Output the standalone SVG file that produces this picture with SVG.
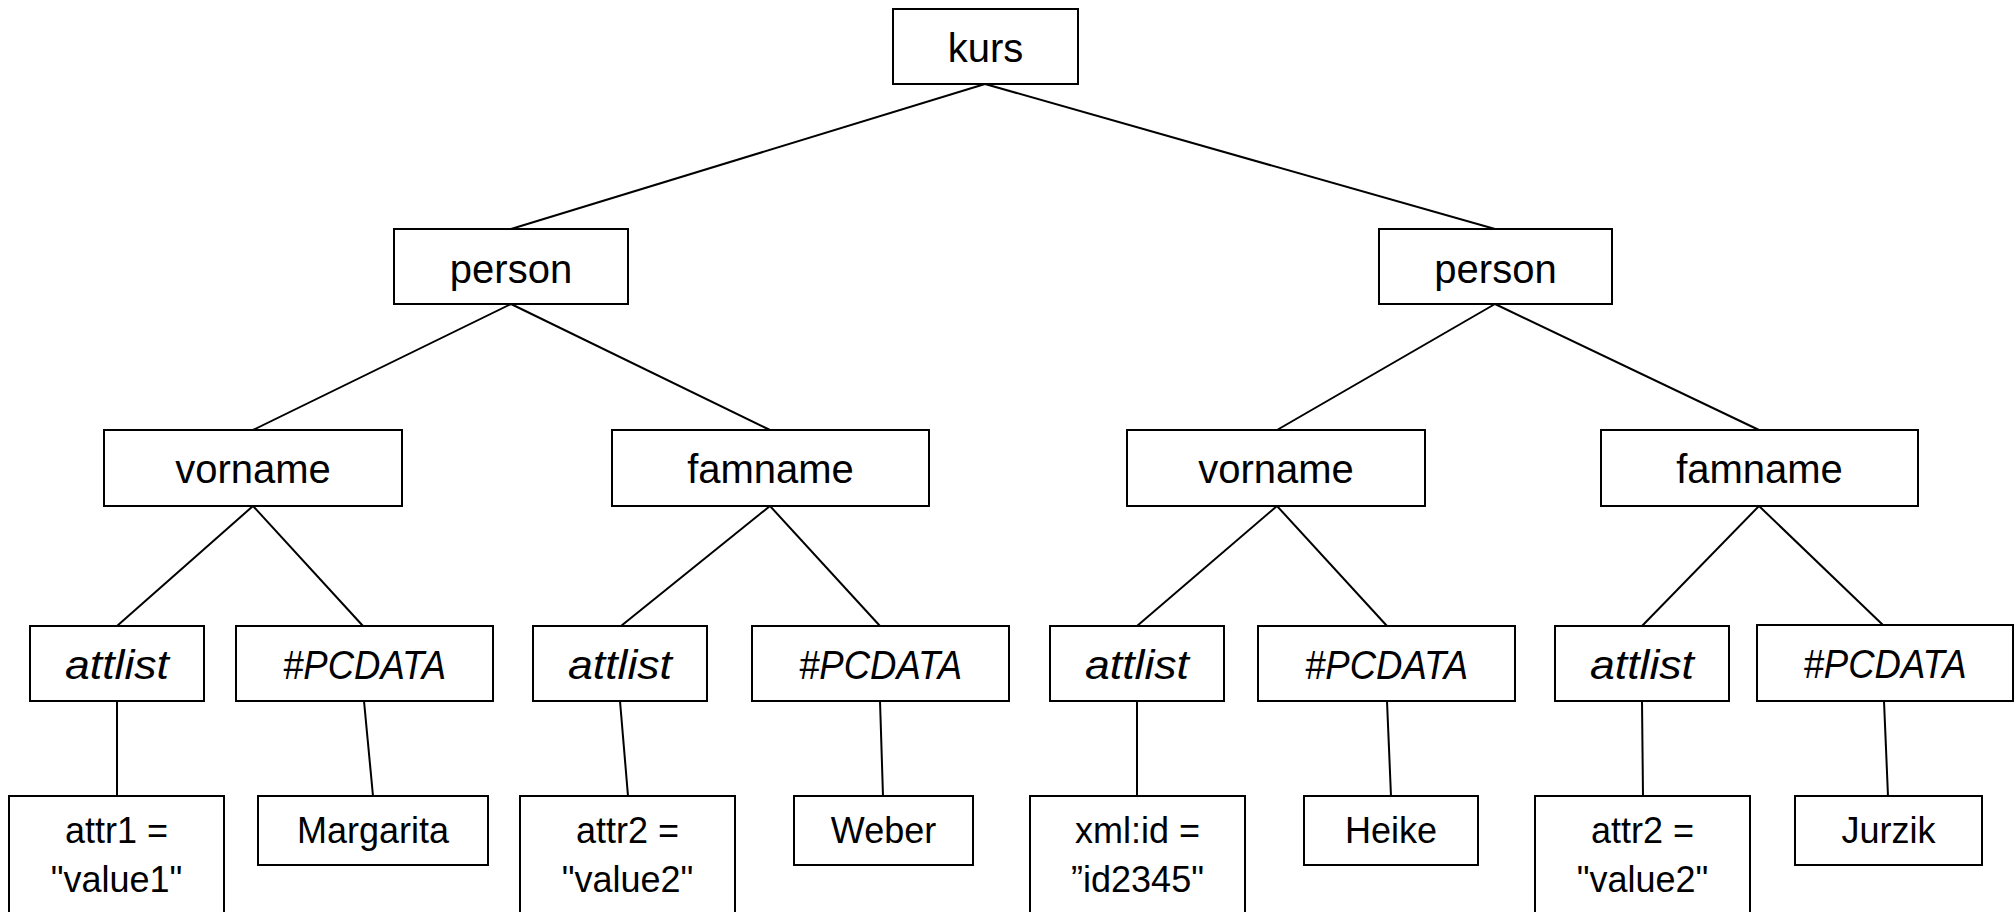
<svg xmlns="http://www.w3.org/2000/svg" width="2015" height="912" viewBox="0 0 2015 912">
  <style>
    .box { fill: #ffffff; stroke: #000000; stroke-width: 2; }
    .edge { stroke: #000000; stroke-width: 2; fill: none; }
    text { font-family: "Liberation Sans", Arial, sans-serif; fill: #000000; text-anchor: middle; }
    .lg { font-size: 40px; }
    .it { font-size: 41px; font-style: italic; }
    .sm { font-size: 36px; }
  </style>
  <rect width="2015" height="912" fill="#ffffff"/>

  <!-- connectors -->
  <g id="edges" class="edge">
    <line x1="985" y1="84" x2="511" y2="229"/>
    <line x1="985" y1="84" x2="1495" y2="229"/>
    <line x1="511" y1="304" x2="253" y2="430"/>
    <line x1="511" y1="304" x2="770" y2="430"/>
    <line x1="1495" y1="304" x2="1277" y2="430"/>
    <line x1="1495" y1="304" x2="1759" y2="430"/>
    <line x1="253" y1="506" x2="117" y2="626"/>
    <line x1="253" y1="506" x2="363" y2="626"/>
    <line x1="770" y1="506" x2="621" y2="626"/>
    <line x1="770" y1="506" x2="880" y2="626"/>
    <line x1="1277" y1="506" x2="1137" y2="626"/>
    <line x1="1277" y1="506" x2="1387" y2="626"/>
    <line x1="1759" y1="506" x2="1642" y2="626"/>
    <line x1="1759" y1="506" x2="1884" y2="626"/>
    <line x1="117" y1="701" x2="117" y2="796"/>
    <line x1="364" y1="701" x2="373" y2="796"/>
    <line x1="620" y1="701" x2="628" y2="796"/>
    <line x1="880" y1="701" x2="883" y2="796"/>
    <line x1="1137" y1="701" x2="1137" y2="796"/>
    <line x1="1387" y1="701" x2="1391" y2="796"/>
    <line x1="1642" y1="701" x2="1643" y2="796"/>
    <line x1="1884" y1="701" x2="1888" y2="796"/>
  </g>

  <!-- root -->
  <g id="kurs">
    <rect class="box" x="893" y="9" width="185" height="75"/>
    <text class="lg" x="985.5" y="62">kurs</text>
  </g>

  <!-- persons -->
  <g id="person1">
    <rect class="box" x="394" y="229" width="234" height="75"/>
    <text class="lg" x="511" y="283">person</text>
  </g>
  <g id="person2">
    <rect class="box" x="1379" y="229" width="233" height="75"/>
    <text class="lg" x="1495.5" y="283">person</text>
  </g>

  <!-- name elements -->
  <g id="vorname1">
    <rect class="box" x="104" y="430" width="298" height="76"/>
    <text class="lg" x="253" y="483">vorname</text>
  </g>
  <g id="famname1">
    <rect class="box" x="612" y="430" width="317" height="76"/>
    <text class="lg" x="770.5" y="483">famname</text>
  </g>
  <g id="vorname2">
    <rect class="box" x="1127" y="430" width="298" height="76"/>
    <text class="lg" x="1276" y="483">vorname</text>
  </g>
  <g id="famname2">
    <rect class="box" x="1601" y="430" width="317" height="76"/>
    <text class="lg" x="1759.5" y="483">famname</text>
  </g>

  <!-- attlist / #PCDATA -->
  <g id="attlist1">
    <rect class="box" x="30" y="626" width="174" height="75"/>
    <text class="it" x="117" y="679" textLength="104" lengthAdjust="spacingAndGlyphs">attlist</text>
  </g>
  <g id="pcdata1">
    <rect class="box" x="236" y="626" width="257" height="75"/>
    <text class="it" x="364.5" y="679" textLength="163" lengthAdjust="spacingAndGlyphs">#PCDATA</text>
  </g>
  <g id="attlist2">
    <rect class="box" x="533" y="626" width="174" height="75"/>
    <text class="it" x="620" y="679" textLength="104" lengthAdjust="spacingAndGlyphs">attlist</text>
  </g>
  <g id="pcdata2">
    <rect class="box" x="752" y="626" width="257" height="75"/>
    <text class="it" x="880.5" y="679" textLength="163" lengthAdjust="spacingAndGlyphs">#PCDATA</text>
  </g>
  <g id="attlist3">
    <rect class="box" x="1050" y="626" width="174" height="75"/>
    <text class="it" x="1137" y="679" textLength="104" lengthAdjust="spacingAndGlyphs">attlist</text>
  </g>
  <g id="pcdata3">
    <rect class="box" x="1258" y="626" width="257" height="75"/>
    <text class="it" x="1386.5" y="679" textLength="163" lengthAdjust="spacingAndGlyphs">#PCDATA</text>
  </g>
  <g id="attlist4">
    <rect class="box" x="1555" y="626" width="174" height="75"/>
    <text class="it" x="1642" y="679" textLength="104" lengthAdjust="spacingAndGlyphs">attlist</text>
  </g>
  <g id="pcdata4">
    <rect class="box" x="1757" y="625" width="256" height="76"/>
    <text class="it" x="1885" y="678" textLength="163" lengthAdjust="spacingAndGlyphs">#PCDATA</text>
  </g>

  <!-- leaf values -->
  <g id="attr1">
    <rect class="box" x="9" y="796" width="215" height="130"/>
    <text class="sm" x="116.5" y="843">attr1 =</text>
    <text class="sm" x="116.5" y="892">"value1"</text>
  </g>
  <g id="margarita">
    <rect class="box" x="258" y="796" width="230" height="69"/>
    <text class="sm" x="373" y="843">Margarita</text>
  </g>
  <g id="attr2a">
    <rect class="box" x="520" y="796" width="215" height="130"/>
    <text class="sm" x="627.5" y="843">attr2 =</text>
    <text class="sm" x="627.5" y="892">"value2"</text>
  </g>
  <g id="weber">
    <rect class="box" x="794" y="796" width="179" height="69"/>
    <text class="sm" x="883.5" y="843">Weber</text>
  </g>
  <g id="xmlid">
    <rect class="box" x="1030" y="796" width="215" height="130"/>
    <text class="sm" x="1137.5" y="843">xml:id =</text>
    <text class="sm" x="1137.5" y="892">”id2345"</text>
  </g>
  <g id="heike">
    <rect class="box" x="1304" y="796" width="174" height="69"/>
    <text class="sm" x="1391" y="843">Heike</text>
  </g>
  <g id="attr2b">
    <rect class="box" x="1535" y="796" width="215" height="130"/>
    <text class="sm" x="1642.5" y="843">attr2 =</text>
    <text class="sm" x="1642.5" y="892">"value2"</text>
  </g>
  <g id="jurzik">
    <rect class="box" x="1795" y="796" width="187" height="69"/>
    <text class="sm" x="1888.5" y="843">Jurzik</text>
  </g>
</svg>
